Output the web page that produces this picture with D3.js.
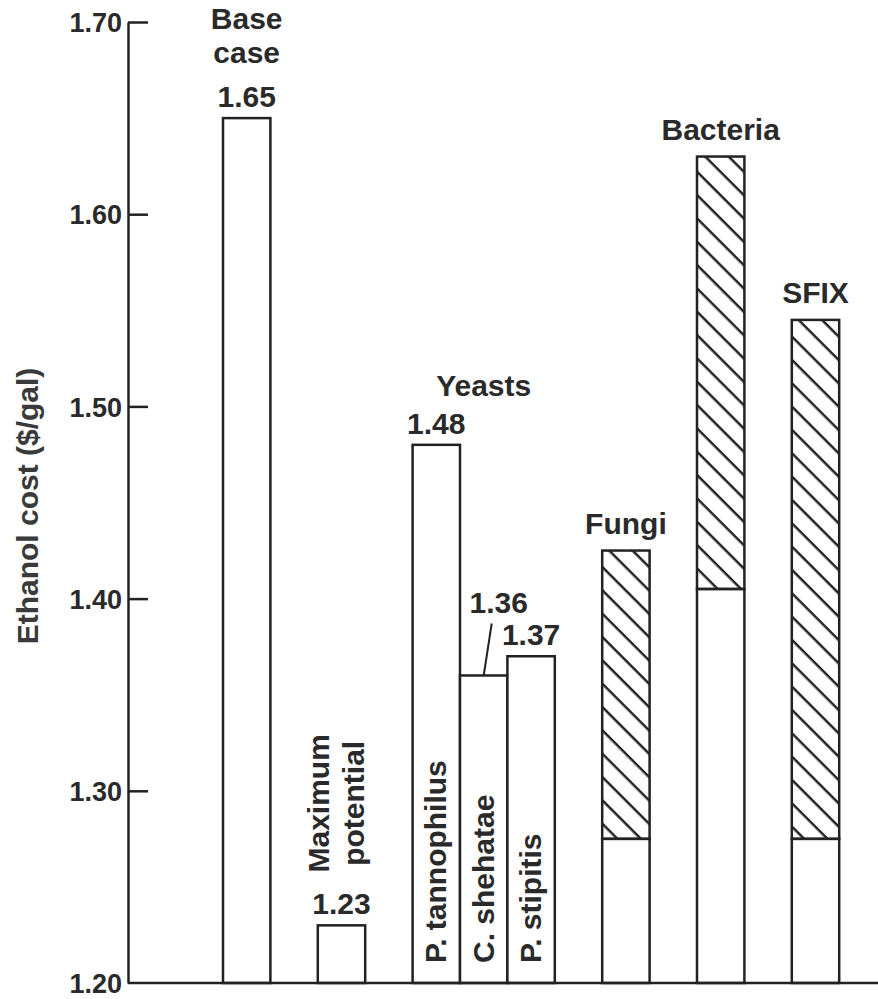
<!DOCTYPE html>
<html>
<head>
<meta charset="utf-8">
<script src="https://cdn.jsdelivr.net/npm/d3@7"></script>
<style>
  body { margin: 0; background: #fff; }
  text { font-family: "Liberation Sans", Arial, sans-serif; font-weight: bold; fill: #2a2a2a; }
</style>
</head>
<body>
<div id="chart"></div>
<script>
// ethanol cost by organism

var categories = ["Base case", "Maximum potential", "P. tannophilus", "C. shehatae", "P. stipitis", "Fungi", "Bacteria", "SFIX"];
var groups = ["base", "max", "yeasts", "yeasts", "yeasts", "fungi", "bacteria", "sfix"];
var lowValues = [1.65, 1.23, 1.48, 1.36, 1.37, 1.275, 1.405, 1.275];   // solid (open) bar top
var highValues = [null, null, null, null, null, 1.425, 1.63, 1.545];   // hatched range top
var valueLabels = ["1.65", "1.23", "1.48", "1.36", "1.37", null, null, null];
var tickValues = [1.20, 1.30, 1.40, 1.50, 1.60, 1.70];
var yTitle = "Ethanol cost ($/gal)";

var width = 878, height = 999;
var axisX = 128;
var ink = "#222";

// slot units: each bar is one unit wide, one empty unit between groups
var slots = [];
var u = 0;
groups.forEach(function (g, i) {
    if (i > 0 && g !== groups[i - 1]) u += 1; // gap
    slots.push(u);
    u += 1;
});

var x = d3.scaleLinear().domain([0, u]).range([223, 223 + u * 47.4]);
var y = d3.scaleLinear().domain([1.20, 1.70]).range([983, 22]);

var svg = d3.select("#chart").append("svg")
    .attr("width", width)
    .attr("height", height);

// hatch pattern
var defs = svg.append("defs");
defs.append("pattern")
    .attr("id", "hatch")
    .attr("patternUnits", "userSpaceOnUse")
    .attr("width", 10)
    .attr("height", 16.5)
    .attr("patternTransform", "rotate(45)")
    .append("line")
    .attr("x1", -1).attr("y1", 8)
    .attr("x2", 11).attr("y2", 8)
    .attr("stroke", ink)
    .attr("stroke-width", 2.5);

// y axis
var yAxis = d3.axisLeft(y)
    .tickValues(tickValues)
    .tickFormat(d3.format(".2f"))
    .tickSizeInner(-20)
    .tickSizeOuter(0)
    .tickPadding(6);

var ag = svg.append("g")
    .attr("transform", "translate(" + axisX + ",0)")
    .call(yAxis);
ag.select(".domain").attr("stroke", ink).attr("stroke-width", 2.5);
ag.selectAll(".tick line").attr("stroke", ink).attr("stroke-width", 2.5);
ag.selectAll(".tick text")
    .attr("font-size", 27)
    .attr("font-family", "Liberation Sans, Arial, sans-serif")
    .attr("font-weight", "bold")
    .attr("fill", "#1e1e1e")
    .attr("dy", "0.36em");
ag.selectAll(".tick").filter(function (d) { return d === 1.20; }).select("line").remove();

svg.append("text")
    .attr("transform", "translate(38," + 506 + ") rotate(-90)")
    .attr("text-anchor", "middle")
    .attr("font-size", 30)
    .style("fill", "#3a3a3a")
    .text(yTitle);

// bars
var bars = svg.append("g");
categories.forEach(function (c, i) {
    var x0 = x(slots[i]), w = x(slots[i] + 1) - x(slots[i]);
    bars.append("rect")
        .attr("x", x0).attr("y", y(lowValues[i]))
        .attr("width", w).attr("height", y(1.20) - y(lowValues[i]))
        .attr("fill", "#fff")
        .attr("stroke", ink).attr("stroke-width", 2.5);
    if (highValues[i] != null) {
        bars.append("rect")
            .attr("x", x0).attr("y", y(highValues[i]))
            .attr("width", w).attr("height", y(lowValues[i]) - y(highValues[i]))
            .attr("fill", "url(#hatch)")
            .attr("stroke", ink).attr("stroke-width", 2.5);
    }
});

// baseline
svg.append("line")
    .attr("x1", axisX).attr("x2", width)
    .attr("y1", y(1.20)).attr("y2", y(1.20))
    .attr("stroke", ink).attr("stroke-width", 2.5);

function cx(i) { return x(slots[i] + 0.5); }
function topOf(i) { return y(highValues[i] != null ? highValues[i] : lowValues[i]); }

var labels = svg.append("g").attr("font-size", 30);

// value labels
valueLabels.forEach(function (v, i) {
    if (!v) return;
    var tx = cx(i), ty = topOf(i) - 11;
    if (categories[i] === "C. shehatae") {
        tx = cx(i) + 15;
        ty = topOf(i) - 62;
        svg.append("line")
            .attr("x1", cx(i) + 8).attr("y1", topOf(i) - 52)
            .attr("x2", cx(i)).attr("y2", topOf(i))
            .attr("stroke", ink).attr("stroke-width", 2);
    }
    labels.append("text")
        .attr("x", tx).attr("y", ty)
        .attr("text-anchor", "middle")
        .text(v);
});

// base case title (two lines)
labels.append("text")
    .attr("x", cx(0)).attr("y", topOf(0) - 55)
    .attr("text-anchor", "middle").text("case");
labels.append("text")
    .attr("x", cx(0)).attr("y", topOf(0) - 89)
    .attr("text-anchor", "middle").text("Base");

// maximum potential, rotated
var mp = labels.append("text")
    .attr("transform", "translate(" + (cx(1) - 6) + "," + (topOf(1) - 122) + ") rotate(-90)")
    .attr("text-anchor", "middle");
mp.append("tspan").attr("x", 0).attr("y", -7).text("Maximum");
mp.append("tspan").attr("x", 0).attr("y", 28).text("potential");

// yeast species inside bars
[2, 3, 4].forEach(function (i) {
    labels.append("text")
        .attr("transform", "translate(" + (cx(i) + 10) + "," + (y(1.20) - 20) + ") rotate(-90)")
        .attr("text-anchor", "start")
        .text(categories[i]);
});

labels.append("text")
    .attr("x", (cx(2) + cx(4)) / 2).attr("y", topOf(2) - 49)
    .attr("text-anchor", "middle").text("Yeasts");

// group titles above hatched bars
[5, 6, 7].forEach(function (i) {
    labels.append("text")
        .attr("x", cx(i)).attr("y", topOf(i) - 17)
        .attr("text-anchor", "middle")
        .text(categories[i]);
});
</script>
</body>
</html>
